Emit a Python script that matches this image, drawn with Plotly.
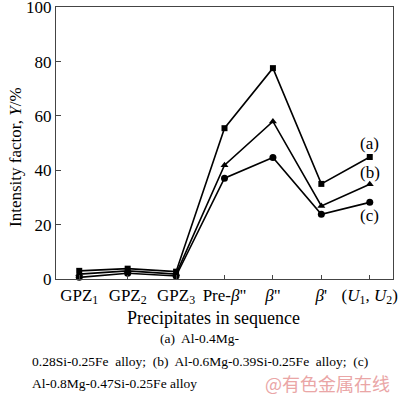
import plotly.graph_objects as go

categories = ["GPZ<sub>1</sub>", "GPZ<sub>2</sub>", "GPZ<sub>3</sub>", "Pre-<i>β</i>\"",
              "<i>β</i>\"", "<i>β</i>'", "(<i>U</i><sub>1</sub>, <i>U</i><sub>2</sub>)"]
series_a = [3.0, 3.8, 2.7, 55.5, 77.6, 35.0, 44.9]
series_b = [1.8, 3.0, 1.8, 41.9, 58.0, 26.9, 34.9]
series_c = [0.6, 2.1, 1.1, 37.1, 44.7, 23.8, 28.2]
y_ticks = [0, 20, 40, 60, 80, 100]

xs = list(range(len(categories)))
FONT = "Liberation Serif"

W, H = 400, 396
ml, mr, mt, mb = 56, 7, 7, 117
def px(x):
    return (x - ml) / (W - ml - mr)
def py(y):
    return (H - mb - y) / (H - mt - mb)

fig = go.Figure()
for vals, sym, size in [(series_a, "square", 6), (series_b, "triangle-up", 7), (series_c, "circle", 7)]:
    fig.add_trace(go.Scatter(x=xs, y=vals, mode="lines+markers",
                             line=dict(color="black", width=1.6),
                             marker=dict(symbol=sym, size=size, color="black"),
                             showlegend=False, cliponaxis=False))

for txt, yv in [("(a)", 50), ("(b)", 39.3), ("(c)", 23.5)]:
    fig.add_annotation(x=6, y=yv, text=txt, showarrow=False, xref="x", yref="y",
                       font=dict(family=FONT, size=17, color="black"))

fig.update_xaxes(range=[-0.48, 6.48], tickmode="array", tickvals=xs, ticktext=categories,
                 ticks="inside", ticklen=4, tickcolor="#444", showline=True, linecolor="#444",
                 linewidth=1.2, mirror=True, showgrid=False, zeroline=False, automargin=False,
                 ticklabeloverflow="allow",
                 tickfont=dict(family=FONT, size=17, color="black"))
fig.update_yaxes(range=[0, 100.1], tickmode="array", tickvals=y_ticks,
                 ticks="inside", ticklen=5, tickcolor="#444", showline=True, linecolor="#444",
                 linewidth=1.2, mirror=True, showgrid=False, zeroline=False, automargin=False,
                 ticklabeloverflow="allow",
                 tickfont=dict(family=FONT, size=17, color="black"))

def note(text, x, y, xanchor="center", size=13.5, color="black", family=FONT, angle=0):
    fig.add_annotation(text=text, xref="paper", yref="paper", x=px(x), y=py(y),
                       xanchor=xanchor, yanchor="middle", showarrow=False, textangle=angle,
                       font=dict(family=family, size=size, color=color))

note("Intensity factor, <i>Y</i>/%", 15, 157, size=17, angle=-90)
note("Precipitates in sequence", 213, 318, size=18)
note("(a)  Al-0.4Mg-", 200, 338)
note("0.28Si-0.25Fe  alloy;  (b)  Al-0.6Mg-0.39Si-0.25Fe  alloy;  (c)", 30, 361, xanchor="left")
note("Al-0.8Mg-0.47Si-0.25Fe alloy", 30, 383, xanchor="left")
note("@有色金属在线", 263, 383, xanchor="left", size=18, color="#eaa6a6", family="Noto Sans CJK SC")

fig.update_layout(width=W, height=H, margin=dict(l=ml, r=mr, t=mt, b=mb, autoexpand=False),
                  plot_bgcolor="white", paper_bgcolor="white",
                  font=dict(family=FONT, color="black"))

fig.write_html("out.html", config={"displayModeBar": False},
               post_script="document.body.style.margin='0';document.body.style.overflow='hidden';")
